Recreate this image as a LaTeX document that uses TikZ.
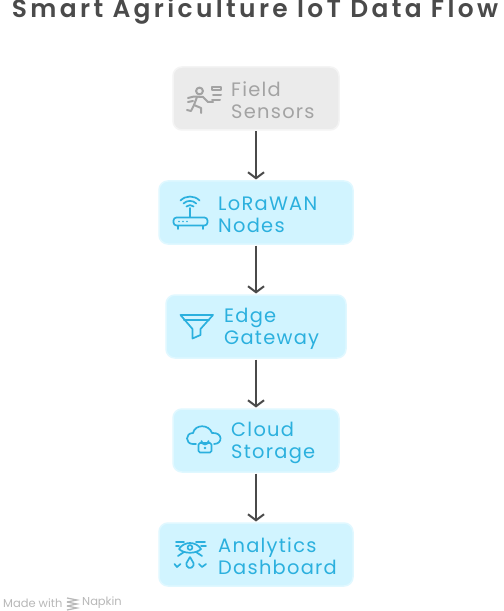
\documentclass[tikz,border=0pt]{standalone}
\usepackage{fontspec}
\setmainfont{Poppins}
\newfontfamily\boxfont[LetterSpace=6.5]{Poppins}
\newfontfamily\titlefont[LetterSpace=13.5]{Poppins SemiBold}
\usetikzlibrary{arrows.meta}
\definecolor{boxblue}{HTML}{D1F4FF}
\definecolor{edgeblue}{HTML}{E0F8FF}
\definecolor{inkblue}{HTML}{2BB0DE}
\definecolor{boxgrey}{HTML}{EBEBEB}
\definecolor{edgegrey}{HTML}{F4F4F4}
\definecolor{inkgrey}{HTML}{A3A3A3}
\definecolor{arrowgrey}{HTML}{4A4A4A}
\tikzset{
  flowbox/.style={draw=edgeblue,fill=boxblue,line width=1.5bp,rounded corners=9bp,minimum height=63bp,inner sep=0pt,outer sep=1.5bp},
  sensorbox/.style={flowbox,draw=edgegrey,fill=boxgrey},
  boxlabel/.style={text=inkblue,font=\boxfont\fontsize{19.5}{22}\selectfont,align=left,anchor=west,inner sep=0pt},
  sensorlabel/.style={boxlabel,text=inkgrey},
  icon/.style={draw=inkblue,line width=1.7bp,line cap=round,line join=round},
  sensoricon/.style={icon,draw=inkgrey,line width=2bp},
  creditlabel/.style={text=black!28,font=\fontsize{11.5}{14}\selectfont,inner sep=0pt,anchor=west},
  flow/.style={->,draw=arrowgrey,line width=2bp}
}
\begin{document}
\begin{tikzpicture}[x=1bp,y=-1bp,>={Straight Barb[length=6bp,width=16bp]}]
\useasboundingbox (0,0) rectangle (504,611);
\fill[white] (0,0) rectangle (504,611);

\node[text=arrowgrey,font=\titlefont\fontsize{25}{28}\selectfont,inner sep=0pt,anchor=base] (title) at (255,18) {Smart Agriculture IoT Data Flow};

% boxes
\node[sensorbox,minimum width=166bp] (sensors) at (256,98.5) {};
\node[flowbox,minimum width=194bp] (lorawan) at (256,212.5) {};
\node[flowbox,minimum width=180bp] (gateway) at (256,326.5) {};
\node[flowbox,minimum width=166bp] (storage) at (256,440.5) {};
\node[flowbox,minimum width=194bp] (dashboard) at (256,554.5) {};

\node[sensorlabel] (sensorstext) at (231,100.5) {Field\\Sensors};
\node[boxlabel] (lorawantext) at (218,214.5) {LoRaWAN\\Nodes};
\node[boxlabel] (gatewaytext) at (224,328.5) {Edge\\Gateway};
\node[boxlabel] (storagetext) at (231,442.5) {Cloud\\Storage};
\node[boxlabel] (dashboardtext) at (218,556.5) {Analytics\\Dashboard};

\draw[flow] (sensors)--(lorawan);
\draw[flow] (lorawan)--(gateway);
\draw[flow] (gateway)--(storage);
\draw[flow] (storage)--(dashboard);

% runner
\draw[sensoricon] (199.5,91) circle (3.4);
\draw[sensoricon] (188,98)--(194,96.5)--(203,97)--(208,102)--(213,102);
\draw[sensoricon] (197,97)--(194,105)--(201,108)--(201,113);
\draw[sensoricon] (194,105)--(191,111)--(187,110);
\draw[sensoricon] (188,102)--(193,101);
\draw[sensoricon] (212,87) rectangle (221,90);
\draw[sensoricon] (213,95)--(221,95);
\draw[sensoricon] (212,100)--(220,100);

% router
\draw[icon,rounded corners=3bp] (173.5,217.5) rectangle (207.5,225.5);
\draw[icon] (190,208)--(190,217);
\draw[icon] (178,229)--(178,226) (203,229)--(203,226);
\foreach \x in {179,183,187}{
    \fill[inkblue] (\x,221.5) circle (0.9);
}
\draw[icon] (186.5,206.5) arc (225:315:5);
\draw[icon] (183.5,203.5) arc (225:315:9);
\draw[icon] (180.5,200.5) arc (225:315:13.5);

% funnel
\draw[icon] (180.5,315)--(213,315)--(200.5,329)--(200.5,335)--(192.5,338.5)--(192.5,329)--cycle;
\draw[icon] (184,320)--(209,320);

% cloud with lock
\draw[icon] (196,444)--(193,444) .. controls (185,444) and (185,433) .. (193,433) .. controls (195,424) and (209,424) .. (212,433) .. controls (223,432) and (223,444) .. (214,444);
\draw[icon,rounded corners=1.5bp] (198.5,443) rectangle (211.5,452.5);
\draw[icon] (201.5,443)--(201.5,441) arc (180:0:3.5)--(208.5,443);
\fill[inkblue] (205,448) circle (1.3);

% eye
\draw[icon] (179,549) .. controls (184,541) and (196,541) .. (201,549) .. controls (196,554) and (184,554) .. (179,549);
\draw[icon] (190,547.5) circle (2.4);
\draw[icon] (176,542)--(184,542) (196,542)--(205,542);
\draw[icon] (176,546)--(179,546) (201,546)--(206,546);
\draw[icon] (184,552)--(178,556) (196,552)--(202,556);
\draw[icon] (190,557)--(186.5,563) arc (200:-20:3.7)--(190,557);
\draw[icon] (174.5,564)--(177,567)--(180.5,564);
\draw[icon] (199,564)--(202,567)--(206,564);

% credit
\node[creditlabel] (madewith) at (3,603) {Made with};
\node[creditlabel] (napkin) at (82,603) {Napkin};
\foreach \y in {600,604,608}{
    \draw[black!28,line width=1.2bp] (67,\y-2)--(77,\y)--(67,\y+2);
}
\end{tikzpicture}
\end{document}
